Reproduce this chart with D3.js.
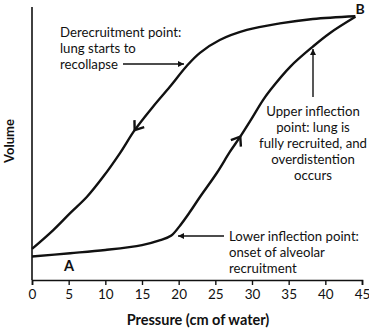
<!DOCTYPE html>
<html>
<head>
<meta charset="utf-8">
<script src="https://cdn.jsdelivr.net/npm/d3@7/dist/d3.min.js"></script>
<style>
  html, body { margin: 0; padding: 0; background: #fff; }
  svg { display: block; }
  text { font-family: Lato, "Open Sans", sans-serif; fill: #111; }
</style>
</head>
<body>
<svg id="chart" width="369" height="330"></svg>
<script>
// Pressure–volume loop of the lung (pressure in cm H2O, volume in relative units)
const pressureTicks = [0, 5, 10, 15, 20, 25, 30, 35, 40, 45];

// Inflation limb: from A up to B
const inflationP = [0, 5.2, 10, 15, 17.5, 19, 20.2, 21.5, 22.9, 25.2, 27, 28.4, 29.7, 31.5, 32.5, 35.2, 38.3, 40.6, 44.1];
const inflationV = [8.6, 9.8, 11.0, 12.8, 14.6, 16.3, 20.0, 24.8, 30.4, 39.2, 47.0, 52.5, 58.0, 65.9, 69.6, 78.1, 85.5, 90.4, 96.4];

// Deflation limb: from B back down toward zero pressure
const deflationP = [0, 2.9, 5.2, 7.5, 9.7, 12, 14, 16.5, 18.8, 21.1, 22.9, 25.6, 29.3, 33.8, 38.3, 44.1];
const deflationV = [11.4, 18.3, 24.5, 30.5, 37.8, 46.5, 54.9, 63.5, 70.8, 78.4, 83.2, 87.9, 91.6, 94.0, 95.6, 96.6];

// Direction markers placed along each limb (pressure where the chevron sits)
const inflationArrowP = 28.4;
const deflationArrowP = 14;

const svg = d3.select("#chart");
const x = d3.scaleLinear().domain([0, 45]).range([32, 362]);
const y = d3.scaleLinear().domain([0, 100]).range([280, 7]);

// Axes
svg.append("line").attr("x1", x(0)).attr("x2", x(0)).attr("y1", y(100)).attr("y2", y(0))
  .attr("stroke", "#111").attr("stroke-width", 1.6);
const xAxis = svg.append("g").attr("transform", `translate(0,${y(0)})`)
  .call(d3.axisBottom(x).tickValues(pressureTicks).tickSize(5).tickPadding(4));
xAxis.select(".domain").attr("stroke", "#111").attr("stroke-width", 1.6);
xAxis.selectAll(".tick line").attr("stroke", "#111").attr("stroke-width", 1.4);
xAxis.selectAll(".tick text").attr("font-family", "Lato, sans-serif").attr("font-size", 13.5).attr("fill", "#111");

svg.append("text").attr("x", (x(0) + x(45)) / 2 + 1).attr("y", 325)
  .attr("text-anchor", "middle").attr("font-weight", "bold").attr("font-size", 14.5)
  .text("Pressure (cm of water)");
svg.append("text").attr("transform", "translate(14,141) rotate(-90)")
  .attr("text-anchor", "middle").attr("font-weight", "bold").attr("font-size", 13)
  .text("Volume");

// Curves
const line = d3.line().x(d => x(d[0])).y(d => y(d[1])).curve(d3.curveCatmullRom.alpha(0.5));
const inflation = inflationP.map((p, i) => [p, inflationV[i]]);
const deflation = deflationP.map((p, i) => [p, deflationV[i]]);
const infPath = svg.append("path").attr("d", line(inflation)).attr("fill", "none")
  .attr("stroke", "#111").attr("stroke-width", 2.4);
const defPath = svg.append("path").attr("d", line(deflation)).attr("fill", "none")
  .attr("stroke", "#111").attr("stroke-width", 2.4);

// Chevron on a path at a given pressure, pointing along (dir=1) or against (dir=-1) the path
function chevron(pathSel, p, dir) {
  const node = pathSel.node();
  const total = node.getTotalLength();
  const tx = x(p);
  let lo = 0, hi = total;
  for (let k = 0; k < 40; k++) {
    const mid = (lo + hi) / 2;
    if (node.getPointAtLength(mid).x < tx) lo = mid; else hi = mid;
  }
  const a = node.getPointAtLength(lo);
  const b = node.getPointAtLength(Math.min(total, lo + 2));
  const ang = Math.atan2(b.y - a.y, b.x - a.x) * 180 / Math.PI + (dir < 0 ? 180 : 0);
  svg.append("path").attr("d", "M-8,-6 L0,0 L-8,6")
    .attr("transform", `translate(${a.x},${a.y}) rotate(${ang})`)
    .attr("fill", "none").attr("stroke", "#111").attr("stroke-width", 2.4)
    .attr("stroke-linejoin", "miter");
}
chevron(infPath, inflationArrowP, 1);
chevron(defPath, deflationArrowP, -1);

// Pointer arrows for annotations
svg.append("defs").append("marker").attr("id", "head")
  .attr("viewBox", "0 0 10 10").attr("refX", 10).attr("refY", 5)
  .attr("markerWidth", 9).attr("markerHeight", 6).attr("markerUnits", "userSpaceOnUse")
  .attr("orient", "auto")
  .append("path").attr("d", "M0,0 L10,5 L0,10 Z").attr("fill", "#111");

function pointer(x1, y1, x2, y2) {
  svg.append("line").attr("x1", x1).attr("y1", y1).attr("x2", x2).attr("y2", y2)
    .attr("stroke", "#111").attr("stroke-width", 1.4).attr("marker-end", "url(#head)");
}
pointer(123, 64, 184, 64);
pointer(313, 97, 313, 49);
pointer(224, 236, 178, 236);

// Annotation text blocks
function block(lines, xPos, yStart, anchor) {
  const t = svg.append("text").attr("font-size", 13.2).attr("text-anchor", anchor);
  lines.forEach((s, i) => {
    t.append("tspan").attr("x", xPos).attr("y", yStart + i * 16).text(s);
  });
}
block(["Derecruitment point:", "lung starts to", "recollapse"], 60, 37, "start");
block(["Upper inflection", "point: lung is", "fully recruited, and", "overdistention", "occurs"], 313, 116, "middle");
block(["Lower inflection point:", "onset of alveolar", "recruitment"], 229, 241, "start");

// Endpoint labels
svg.append("text").attr("x", 360).attr("y", 14).attr("text-anchor", "middle")
  .attr("font-weight", "bold").attr("font-size", 14).text("B");
svg.append("text").attr("x", 69).attr("y", 271).attr("text-anchor", "middle")
  .attr("font-weight", "bold").attr("font-size", 14.5).text("A");
</script>
</body>
</html>
